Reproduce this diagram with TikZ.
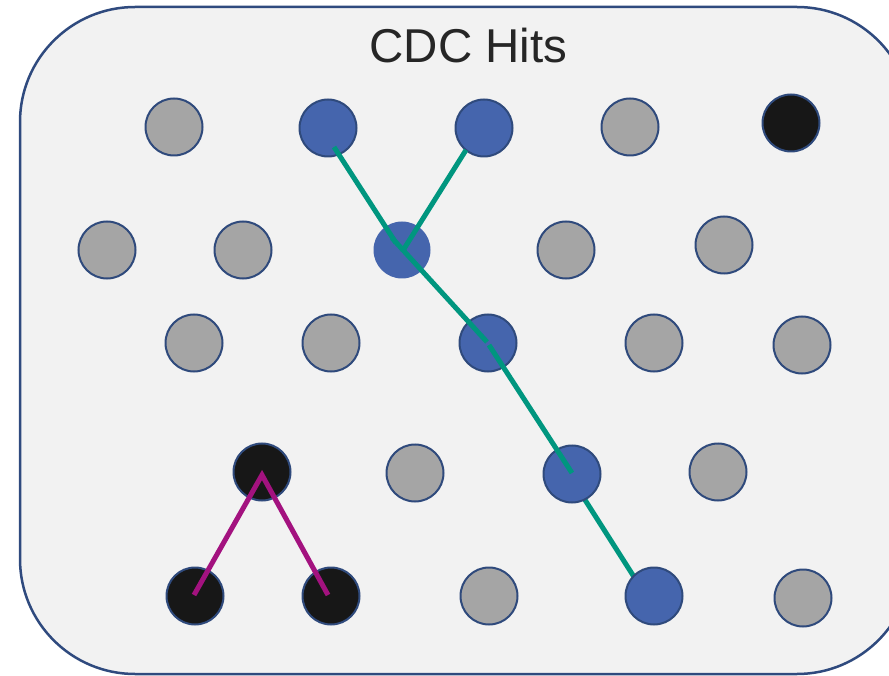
\documentclass[tikz,border=0pt]{standalone}
\usepackage{fontspec}
\setmainfont{Liberation Sans}
\definecolor{panelfill}{HTML}{F2F2F2}
\definecolor{panelline}{HTML}{2F4A7E}
\definecolor{ringline}{HTML}{2F4A7C}
\definecolor{hitgray}{HTML}{A5A5A5}
\definecolor{hitblue}{HTML}{4565AD}
\definecolor{hitblack}{HTML}{171717}
\definecolor{trackteal}{HTML}{00967F}
\definecolor{trackmag}{HTML}{A3127F}
\definecolor{titlegray}{HTML}{262626}
\tikzset{
  hit/.style={circle, minimum size=57pt, inner sep=0pt, draw=ringline, line width=2pt},
  grayhit/.style={hit, fill=hitgray},
  bluehit/.style={hit, fill=hitblue},
  blackhit/.style={hit, fill=hitblack},
  tealtrack/.style={draw=trackteal, line width=5pt},
  magtrack/.style={draw=trackmag, line width=5pt},
}
\begin{document}
\begin{tikzpicture}[x=1pt, y=-1pt]
\clip (0,0) rectangle (889,676);
% detector panel
\draw[fill=panelfill, draw=panelline, line width=2.5pt, rounded corners=115pt]
  (20,7) rectangle (912,674);
\node[font=\fontsize{47.5}{57}\selectfont, text=titlegray] (title) at (468.5,45.5) {CDC Hits};

% track points
\coordinate (ta0) at (334,147);
\coordinate (ta1) at (396,243);
\coordinate (tb0) at (392,238);
\coordinate (tb1) at (487,342);
\coordinate (tc0) at (466,150);
\coordinate (tc1) at (402,252);
\coordinate (td0) at (489,345);
\coordinate (td1) at (572,473);
\coordinate (te0) at (573,481);
\coordinate (te1) at (636,580);
\coordinate (m0) at (262,475);
\coordinate (m1) at (194,595);
\coordinate (m2) at (328,595);

% last segment runs beneath the final hit
\draw[tealtrack] (te0) -- (te1);

% row 1
\node[grayhit]  (h11) at (174,127) {};
\node[bluehit]  (h12) at (328,128) {};
\node[bluehit]  (h13) at (484,128) {};
\node[grayhit]  (h14) at (630,127) {};
\node[blackhit] (h15) at (791,123) {};
% row 2
\node[grayhit]  (h21) at (107,250) {};
\node[grayhit]  (h22) at (243,250) {};
\node[bluehit, draw=none] (h23) at (402,250) {};
\node[grayhit]  (h24) at (566,250) {};
\node[grayhit]  (h25) at (724,245) {};
% row 3
\node[grayhit]  (h31) at (194,343) {};
\node[grayhit]  (h32) at (331,343) {};
\node[bluehit]  (h33) at (488,343) {};
\node[grayhit]  (h34) at (654,343) {};
\node[grayhit]  (h35) at (802,345) {};
% row 4
\node[blackhit] (h41) at (262,472) {};
\node[grayhit]  (h42) at (415,473) {};
\node[bluehit]  (h43) at (572,474) {};
\node[grayhit]  (h44) at (718,472) {};
% row 5
\node[blackhit] (h51) at (195,596) {};
\node[blackhit] (h52) at (331,596) {};
\node[grayhit]  (h53) at (489,596) {};
\node[bluehit]  (h54) at (654,596) {};
\node[grayhit]  (h55) at (803,598) {};

% teal track segments
\draw[tealtrack] (ta0) -- (ta1);
\draw[tealtrack] (tb0) -- (tb1);
\draw[tealtrack] (tc0) -- (tc1);
\draw[tealtrack] (td0) -- (td1);

% magenta vertex
\draw[magtrack] (m1) -- (m0) -- (m2);
\end{tikzpicture}
\end{document}
